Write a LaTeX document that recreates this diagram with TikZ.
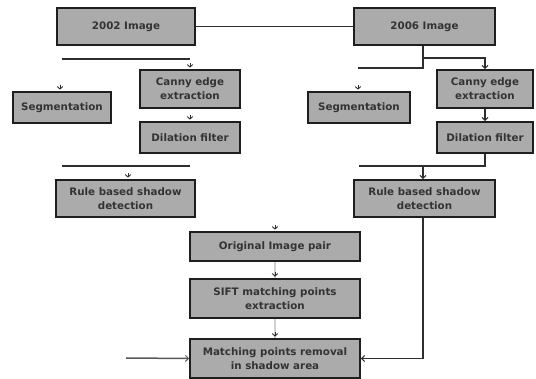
\documentclass[tikz,border=0pt]{standalone}
\usepackage{fontspec}
\setmainfont{DejaVu Sans}
\usetikzlibrary{arrows.meta,calc}
\definecolor{boxfill}{HTML}{ABABAB}
\definecolor{boxline}{HTML}{1E1E1E}
\definecolor{conn}{HTML}{2E2E2E}
\definecolor{faint}{HTML}{D0D0D0}
\begin{document}
\begin{tikzpicture}[x=1pt,y=-1pt,
  box/.style={draw=boxline,fill=boxfill,line width=1.7pt,inner sep=0pt,
    align=center,font=\fontsize{10.3}{14}\selectfont\bfseries,text=black!80},
  conline/.style={draw=conn,line width=1.5pt},
  conarrow/.style={conline,-{Straight Barb[length=3pt,width=6pt,line width=1pt]}},
  tipmark/.style={draw=conn,line width=0.9pt,-{Straight Barb[length=2.5pt,width=5.5pt,line width=0.9pt]}},
  faintline/.style={draw=faint,line width=1.2pt}]
\useasboundingbox (0,0) rectangle (536,379);
% boxes
\node[box,minimum width=138,minimum height=37] (i02) at (126,26.5) {2002 Image};
\node[box,minimum width=141,minimum height=37] (i06) at (424.5,26.5) {2006 Image};
\node[box,minimum width=98,minimum height=31] (segL) at (62,107.5) {Segmentation};
\node[box,minimum width=100,minimum height=38] (cannyL) at (190,89) {Canny edge\\extraction};
\node[box,minimum width=100,minimum height=31] (dilL) at (190,137.5) {Dilation filter};
\node[box,minimum width=139,minimum height=37] (ruleL) at (125.5,198.5) {Rule based shadow\\detection};
\node[box,minimum width=102,minimum height=31] (segR) at (359,107.5) {Segmentation};
\node[box,minimum width=96,minimum height=38] (cannyR) at (485,89) {Canny edge\\extraction};
\node[box,minimum width=96,minimum height=31] (dilR) at (485,137.5) {Dilation filter};
\node[box,minimum width=141,minimum height=37] (ruleR) at (424.5,198.5) {Rule based shadow\\detection};
\node[box,minimum width=170,minimum height=29] (orig) at (275,246.5) {Original Image pair};
\node[box,minimum width=170,minimum height=39] (sift) at (275,298.5) {SIFT matching points\\extraction};
\node[box,minimum width=170,minimum height=39] (match) at (275,358.5) {Matching points removal\\in shadow area};
% coordinates
\coordinate (l1a) at (62,59);
\coordinate (l1b) at (190,59);
\coordinate (l2a) at (62,166);
\coordinate (l2b) at (190,166);
\coordinate (r1a) at (358,68);
\coordinate (r1j) at (423,58);
\coordinate (r2a) at (359,166);
\coordinate (r2j) at (423,166);
\coordinate (inL) at (126,358);
% top link
\draw[conline] (i02.east) -- (i06.west);
% left orphan lines and tips
\draw[conline] (l1a) -- (l1b);
\draw[conline] (l2a) -- (l2b);
\draw[tipmark] ($(cannyL.north)+(0,-6)$) -- ($(cannyL.north)+(0,-1.5)$);
\draw[tipmark] ($(segL.north)+(-2,-6)$) -- ($(segL.north)+(-2,-1.5)$);
\draw[tipmark] ($(dilL.north)+(0,-6)$) -- ($(dilL.north)+(0,-1.5)$);
\draw[tipmark] ($(ruleL.north)+(2.5,-6)$) -- ($(ruleL.north)+(2.5,-1.5)$);
% right connectors
\draw[conline] (i06.south -| r1j) |- (r1a);
\draw[conarrow] (r1j) -| (cannyR.north);
\draw[conarrow] (cannyR.south) -- (dilR.north);
\draw[conline] (dilR.south) |- (r2a);
\draw[conarrow] (r2j) -- (r2j |- ruleR.north);
\draw[tipmark] ($(segR.north)+(-1,-6)$) -- ($(segR.north)+(-1,-1.5)$);
\draw[conarrow] (ruleR.south -| r2j) |- (match.east);
% centre column
\draw[faintline] (orig.south) -- (sift.north);
\draw[faintline] (sift.south) -- (match.north);
\draw[tipmark] ($(orig.north)+(0,-6)$) -- ($(orig.north)+(0,-1.5)$);
\draw[tipmark] ($(sift.north)+(0,-6)$) -- ($(sift.north)+(0,-1.5)$);
\draw[tipmark] ($(match.north)+(0,-6)$) -- ($(match.north)+(0,-1.5)$);
\draw[conarrow,draw=black!65] (inL) -- (match.west);
\end{tikzpicture}
\end{document}
